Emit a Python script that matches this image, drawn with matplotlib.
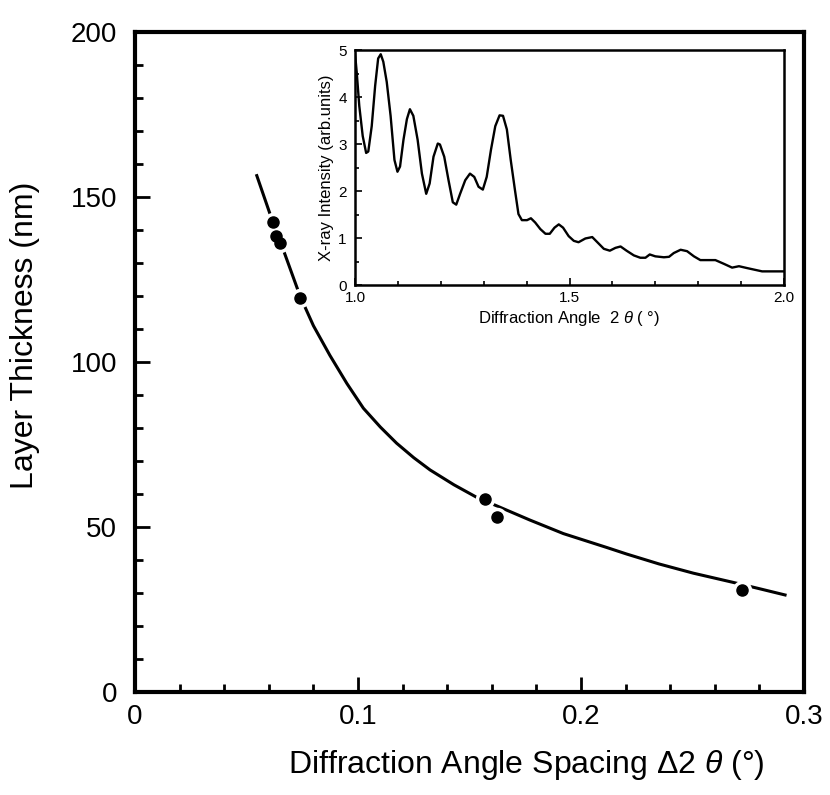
import matplotlib
matplotlib.use("Agg")
import matplotlib.pyplot as plt
from matplotlib.ticker import MultipleLocator

plt.rcParams['font.family'] = ['Liberation Sans', 'DejaVu Sans']
plt.rcParams['mathtext.fontset'] = 'custom'
plt.rcParams['mathtext.rm'] = 'Liberation Sans'
plt.rcParams['mathtext.it'] = 'Liberation Sans:italic'

# main plot: fitted curve
curve_x = [0.0546, 0.062, 0.065, 0.074, 0.080, 0.0874, 0.095, 0.1024,
           0.110, 0.1173, 0.125, 0.1323, 0.143, 0.1532, 0.165, 0.1771,
           0.1921, 0.2115, 0.2205, 0.235, 0.2504, 0.2683, 0.280, 0.2915]
curve_y = [156.5, 142.0, 136.8, 120.0, 111.0, 102.0, 93.5, 86.0,
           80.3, 75.4, 71.0, 67.3, 62.8, 59.0, 55.6, 52.1,
           48.0, 43.8, 41.8, 38.8, 36.0, 33.2, 31.3, 29.4]

# measured points
meas_x = [0.0620, 0.0632, 0.0650, 0.0740, 0.1570, 0.1622, 0.2720]
meas_y = [142.5, 138.2, 136.2, 119.3, 58.5, 53.1, 30.9]

# inset: X-ray diffraction profile
xrd_angle = [1.000, 1.004, 1.010, 1.018, 1.026, 1.031, 1.039, 1.047, 1.054,
             1.060, 1.066, 1.074, 1.083, 1.092, 1.099, 1.105, 1.113, 1.121,
             1.128, 1.136, 1.146, 1.156, 1.166, 1.174, 1.183, 1.193, 1.198,
             1.208, 1.218, 1.228, 1.236, 1.245, 1.257, 1.268, 1.278, 1.288,
             1.298, 1.307, 1.317, 1.327, 1.337, 1.345, 1.354, 1.363, 1.373,
             1.381, 1.389, 1.401, 1.410, 1.420, 1.432, 1.444, 1.454, 1.465,
             1.475, 1.485, 1.498, 1.510, 1.521, 1.537, 1.553, 1.566, 1.580,
             1.594, 1.607, 1.619, 1.633, 1.650, 1.665, 1.677, 1.687, 1.700,
             1.720, 1.732, 1.743, 1.759, 1.774, 1.790, 1.805, 1.821, 1.840,
             1.860, 1.879, 1.895, 1.914, 1.934, 1.949, 2.000]
xrd_int = [4.93, 4.53, 3.81, 3.17, 2.81, 2.84, 3.38, 4.24, 4.82,
           4.91, 4.75, 4.32, 3.60, 2.66, 2.41, 2.52, 3.09, 3.53,
           3.74, 3.60, 3.09, 2.37, 1.94, 2.16, 2.73, 3.01, 2.99,
           2.73, 2.23, 1.76, 1.71, 1.94, 2.23, 2.37, 2.30, 2.09,
           2.03, 2.30, 2.88, 3.38, 3.61, 3.60, 3.31, 2.66, 2.01,
           1.51, 1.38, 1.38, 1.42, 1.33, 1.19, 1.09, 1.09, 1.22,
           1.29, 1.22, 1.04, 0.94, 0.91, 0.99, 1.02, 0.90, 0.77,
           0.73, 0.79, 0.82, 0.73, 0.63, 0.58, 0.58, 0.65, 0.61,
           0.59, 0.60, 0.68, 0.75, 0.72, 0.61, 0.53, 0.53, 0.53,
           0.45, 0.37, 0.40, 0.36, 0.32, 0.29, 0.29]

fig = plt.figure(figsize=(8.3, 7.95), dpi=100)
ax = fig.add_axes([0.1627, 0.1296, 0.806, 0.830])

ax.plot(curve_x, curve_y, color='black', lw=2.2, zorder=2)
# white halo so the line is broken around each point
ax.plot(meas_x, meas_y, 'o', ms=8, mfc='white', mec='white', mew=6, zorder=3)
ax.plot(meas_x, meas_y, 'o', ms=8, mfc='black', mec='black', zorder=4)

ax.set_xlim(0, 0.3)
ax.set_ylim(0, 200)
ax.set_xticks([0, 0.1, 0.2, 0.3])
ax.set_xticklabels(['0', '0.1', '0.2', '0.3'])
ax.xaxis.set_minor_locator(MultipleLocator(0.02))
ax.yaxis.set_major_locator(MultipleLocator(50))
ax.yaxis.set_minor_locator(MultipleLocator(10))
ax.tick_params(which='both', direction='in', labelsize=20, width=2)
ax.tick_params(which='major', length=11)
ax.tick_params(which='minor', length=6)
ax.tick_params(axis='x', pad=9)
ax.tick_params(axis='y', pad=13)
for s in ax.spines.values():
    s.set_linewidth(3)
ax.set_xlabel('Diffraction Angle Spacing \u03942 $\\theta$ (\u00b0)', fontsize=23)
ax.xaxis.set_label_coords(0.585, -0.085)
ax.set_ylabel('Layer Thickness (nm)', fontsize=23)
ax.yaxis.set_label_coords(-0.142, 0.54)

# inset
ins = fig.add_axes([0.4277, 0.6415, 0.5169, 0.2956])
ins.plot(xrd_angle, xrd_int, color='black', lw=1.7)
ins.set_xlim(1.0, 2.0)
ins.set_ylim(0, 5)
ins.set_xticks([1.0, 1.5, 2.0])
ins.xaxis.set_minor_locator(MultipleLocator(0.1))
ins.yaxis.set_major_locator(MultipleLocator(1))
ins.yaxis.set_minor_locator(MultipleLocator(0.5))
ins.tick_params(which='both', direction='in', labelsize=11, width=1.2)
ins.tick_params(which='major', length=5)
ins.tick_params(which='minor', length=3)
ins.tick_params(axis='x', pad=4)
ins.tick_params(axis='y', pad=6)
for s in ins.spines.values():
    s.set_linewidth(1.8)
ins.set_xlabel('Diffraction Angle  2 $\\theta$ ( \u00b0)', fontsize=12, labelpad=3)
ins.set_ylabel('X-ray Intensity (arb.units)', fontsize=12, labelpad=3)

fig.savefig('out.png', dpi=100)
